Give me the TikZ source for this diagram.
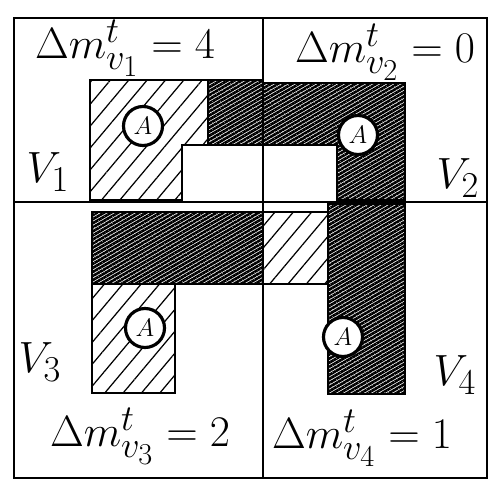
\documentclass[tikz,border=0pt]{standalone}
\usepackage{amsmath,amssymb}
\usetikzlibrary{patterns.meta}

\begin{document}
\begin{tikzpicture}[x=0.2mm,y=-0.2mm,
  frame/.style={line width=1.2pt},
  lite/.style={draw,line width=1.6pt,pattern={Lines[angle=50,distance=8pt,line width=0.7pt]}},
  dark/.style={draw,line width=1.6pt,pattern={Lines[angle=30,distance=2pt,line width=1.5pt]}},
  agent/.style={circle,draw,line width=1.8pt,fill=white,inner sep=0pt,minimum size=7.8mm,font=\Large},
  lbl/.style={font=\Huge},
  cell/.style={font=\Huge}
]
\useasboundingbox (0,0) rectangle (498,496);

% outer frame and the four regions
\draw[frame] (14,18) rectangle (487,478);
\draw[frame] (263,18) -- (263,478);
\draw[frame] (14,202) -- (487,202);

% light cells
\draw[lite] (90,80) -- (208,80) -- (208,145) -- (182,145) -- (182,200) -- (90,200) -- cycle;
\draw[lite] (263,212) -- (328,212) -- (328,284) -- (263,284) -- cycle;
\draw[lite] (92,284) -- (175,284) -- (175,393) -- (92,393) -- cycle;

% dark cells
\draw[dark] (208,80) -- (263,80) -- (263,145) -- (208,145) -- cycle;
\draw[dark] (263,83) -- (405,83) -- (405,200) -- (337,200) -- (337,145) -- (263,145) -- cycle;
\draw[dark] (92,212) -- (263,212) -- (263,284) -- (92,284) -- cycle;
\draw[dark] (328,204) -- (405,204) -- (405,394) -- (328,394) -- cycle;

% agents
\node[agent] (a1) at (143,126) {$A$};
\node[agent] (a2) at (358,135) {$A$};
\node[agent] (a3) at (145,328) {$A$};
\node[agent] (a4) at (343,337) {$A$};

% region names
\node[cell] (v1) at (48,172) {$V_1$};
\node[cell] (v2) at (458,178) {$V_2$};
\node[cell] (v3) at (40,362) {$V_3$};
\node[cell] (v4) at (455,375) {$V_4$};

% changes per region
\node[lbl] (dv1) at (125,48)  {$\Delta m^{t}_{v_1}=4$};
\node[lbl] (dv2) at (385,52)  {$\Delta m^{t}_{v_2}=0$};
\node[lbl] (dv3) at (140,436) {$\Delta m^{t}_{v_3}=2$};
\node[lbl] (dv4) at (362,438) {$\Delta m^{t}_{v_4}=1$};
\end{tikzpicture}
\end{document}
